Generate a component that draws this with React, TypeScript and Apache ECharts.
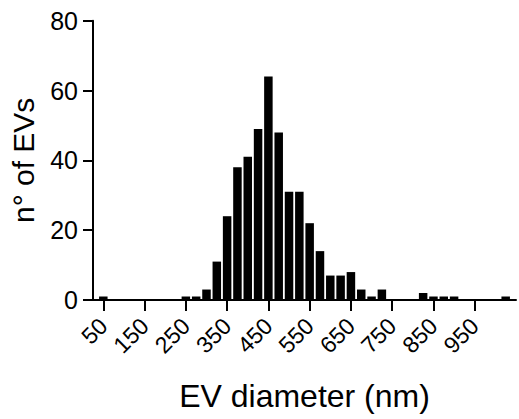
import React, { useEffect, useRef } from "react";
import * as echarts from "echarts";

// histogram bin centres (nm) and counts per bin
const binCenters: string[] = [
  "50", "75", "100", "125", "150", "175", "200", "225", "250", "275",
  "300", "325", "350", "375", "400", "425", "450", "475", "500", "525",
  "550", "575", "600", "625", "650", "675", "700", "725", "750", "775",
  "800", "825", "850", "875", "900", "925", "950", "975", "1000", "1025",
];
const counts: number[] = [
  1, 0, 0, 0, 0, 0, 0, 0, 1, 1,
  3, 11, 24, 38, 41, 49, 64, 48, 31, 31,
  22, 14, 7, 7, 8, 3, 1, 3, 0, 0,
  0, 2, 1, 1, 1, 0, 0, 0, 0, 1,
];
const xTickLabels: string[] = ["50", "150", "250", "350", "450", "550", "650", "750", "850", "950"];
// empty padding positions at both ends of the x axis
const axisPadStart = "25";
const axisPadEnd = "1050";
const yTicks = { min: 0, max: 80, interval: 20 };

export default function App() {
  const ref = useRef<HTMLDivElement>(null);
  useEffect(() => {
    const chart = echarts.init(ref.current!, null, { renderer: "svg" });
    const font = "Liberation Sans, Arial, sans-serif";
    const cats = [axisPadStart, ...binCenters, axisPadEnd];
    const data: (number | string)[] = ["-", ...counts, "-"];
    chart.setOption({
      animation: false,
      grid: { left: 92, right: 3, top: 20.7, bottom: 119 },
      xAxis: {
        type: "category",
        data: cats,
        boundaryGap: false,
        name: "EV diameter (nm)",
        nameLocation: "middle",
        nameGap: 80,
        nameTextStyle: { fontFamily: font, fontSize: 32, color: "#000" },
        axisLine: { show: true, lineStyle: { color: "#000", width: 2 } },
        axisTick: {
          show: true,
          interval: (_i: number, v: string) => xTickLabels.includes(v),
          length: 11,
          lineStyle: { color: "#000", width: 2 },
        },
        axisLabel: {
          interval: (_i: number, v: string) => xTickLabels.includes(v),
          rotate: 45,
          fontFamily: font,
          fontSize: 23,
          color: "#000",
          margin: 22,
        },
        splitLine: { show: false },
      },
      yAxis: {
        type: "value",
        min: yTicks.min,
        max: yTicks.max,
        interval: yTicks.interval,
        name: "n° of EVs",
        nameLocation: "middle",
        nameGap: 55,
        nameRotate: 90,
        nameTextStyle: { fontFamily: font, fontSize: 30, color: "#000" },
        axisLine: { show: true, lineStyle: { color: "#000", width: 2 } },
        axisTick: { show: true, length: 10, lineStyle: { color: "#000", width: 2 } },
        axisLabel: { fontFamily: font, fontSize: 25, color: "#000", margin: 15 },
        splitLine: { show: false },
      },
      series: [
        {
          type: "bar",
          data,
          barWidth: 8.5,
          itemStyle: { color: "#000" },
        },
      ],
    });
    return () => chart.dispose();
  }, []);
  return <div ref={ref} style={{ width: 519, height: 419, position: "absolute", left: 0, top: 0 }} />;
}
